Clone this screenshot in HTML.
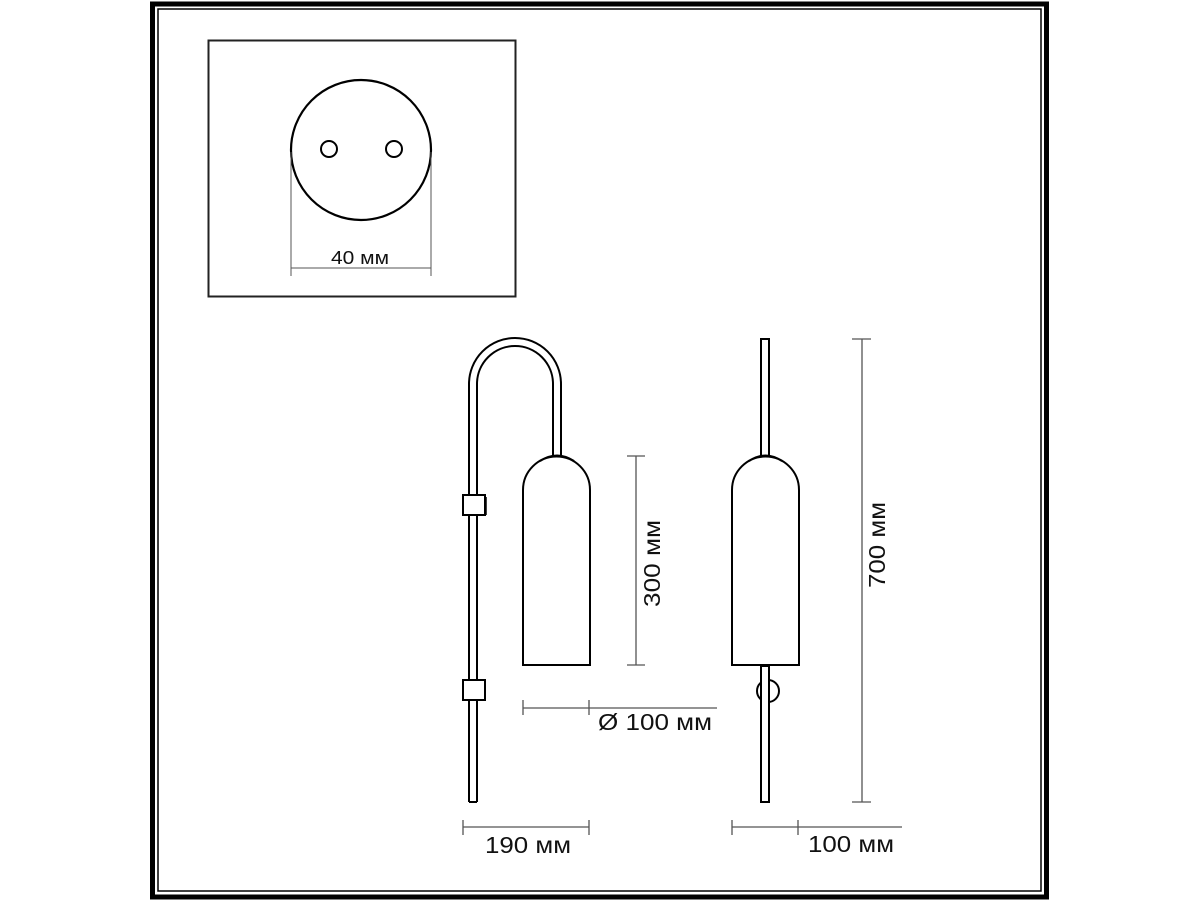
<!DOCTYPE html>
<html><head><meta charset="utf-8"><style>
html,body{margin:0;padding:0;background:#fff;}
svg{display:block;}
text{font-family:"Liberation Sans",sans-serif;fill:#111;}
</style></head><body>
<svg width="1200" height="900" viewBox="0 0 1200 900" xmlns="http://www.w3.org/2000/svg">
<!-- frame -->
<rect x="152.5" y="4" width="894" height="893" fill="none" stroke="#000" stroke-width="5"/>
<rect x="158" y="9" width="883" height="882" fill="none" stroke="#000" stroke-width="1.5"/>
<!-- inset box -->
<rect x="208.5" y="40.5" width="307" height="256" fill="none" stroke="#222" stroke-width="2"/>
<circle cx="361" cy="150" r="70" fill="none" stroke="#000" stroke-width="2.2"/>
<circle cx="329" cy="149" r="8" fill="none" stroke="#000" stroke-width="2"/>
<circle cx="394" cy="149" r="8" fill="none" stroke="#000" stroke-width="2"/>
<g stroke="#555" stroke-width="1">
<line x1="291" y1="152" x2="291" y2="276"/>
<line x1="431" y1="152" x2="431" y2="276"/>
<line x1="291" y1="268" x2="431" y2="268"/>
</g>
<text x="331" y="264" font-size="18" textLength="58" lengthAdjust="spacingAndGlyphs">40 мм</text>

<!-- left lamp -->
<g fill="none" stroke="#000" stroke-width="2">
<path d="M469 802 V384 A46 46 0 0 1 561 384 V458"/>
<path d="M477 802 V384 A38 38 0 0 1 553 384 V458"/>
<line x1="469" y1="802" x2="477" y2="802"/>
<path d="M523 665 V490 A33.5 33.5 0 0 1 590 490 V665 Z" fill="#fff"/>
<path d="M540 461 Q557 450 574 461" />
<rect x="463" y="495" width="22" height="20" fill="#fff"/>
<rect x="463" y="680" width="22" height="20" fill="#fff"/>
</g>
<line x1="486" y1="497" x2="486" y2="515" stroke="#000" stroke-width="1.5"/>

<!-- right lamp -->
<g fill="none" stroke="#000" stroke-width="2">
<path d="M761 458 V339 H769 V458"/>
<path d="M732 665 V490 A33.5 33.5 0 0 1 799 490 V665 Z" fill="#fff"/>
<path d="M749 461 Q765.5 450 782 461"/>
<circle cx="768" cy="691" r="11"/>
<rect x="761" y="666" width="8" height="136" fill="#fff"/>
</g>

<!-- dimension lines -->
<g stroke="#555" stroke-width="1.3">
<line x1="636" y1="456" x2="636" y2="665"/>
<line x1="627" y1="456" x2="645" y2="456"/>
<line x1="627" y1="665" x2="645" y2="665"/>
<line x1="862" y1="339" x2="862" y2="802"/>
<line x1="852" y1="339" x2="871" y2="339"/>
<line x1="852" y1="802" x2="871" y2="802"/>
<line x1="523" y1="708" x2="717" y2="708"/>
<line x1="523" y1="700" x2="523" y2="715"/>
<line x1="589" y1="700" x2="589" y2="715"/>
<line x1="463" y1="827" x2="589" y2="827"/>
<line x1="463" y1="820" x2="463" y2="835"/>
<line x1="589" y1="820" x2="589" y2="835"/>
<line x1="732" y1="827" x2="902" y2="827"/>
<line x1="732" y1="820" x2="732" y2="835"/>
<line x1="798" y1="820" x2="798" y2="835"/>
</g>
<g transform="translate(660 607) rotate(-90)"><text x="0" y="0" font-size="23" textLength="87" lengthAdjust="spacingAndGlyphs">300 мм</text></g>
<g transform="translate(885 588) rotate(-90)"><text x="0" y="0" font-size="23" textLength="86" lengthAdjust="spacingAndGlyphs">700 мм</text></g>
<text x="598" y="730" font-size="23" textLength="114" lengthAdjust="spacingAndGlyphs">Ø 100 мм</text>
<text x="485" y="853" font-size="23" textLength="86" lengthAdjust="spacingAndGlyphs">190 мм</text>
<text x="808" y="852" font-size="23" textLength="86" lengthAdjust="spacingAndGlyphs">100 мм</text>
</svg>
</body></html>
